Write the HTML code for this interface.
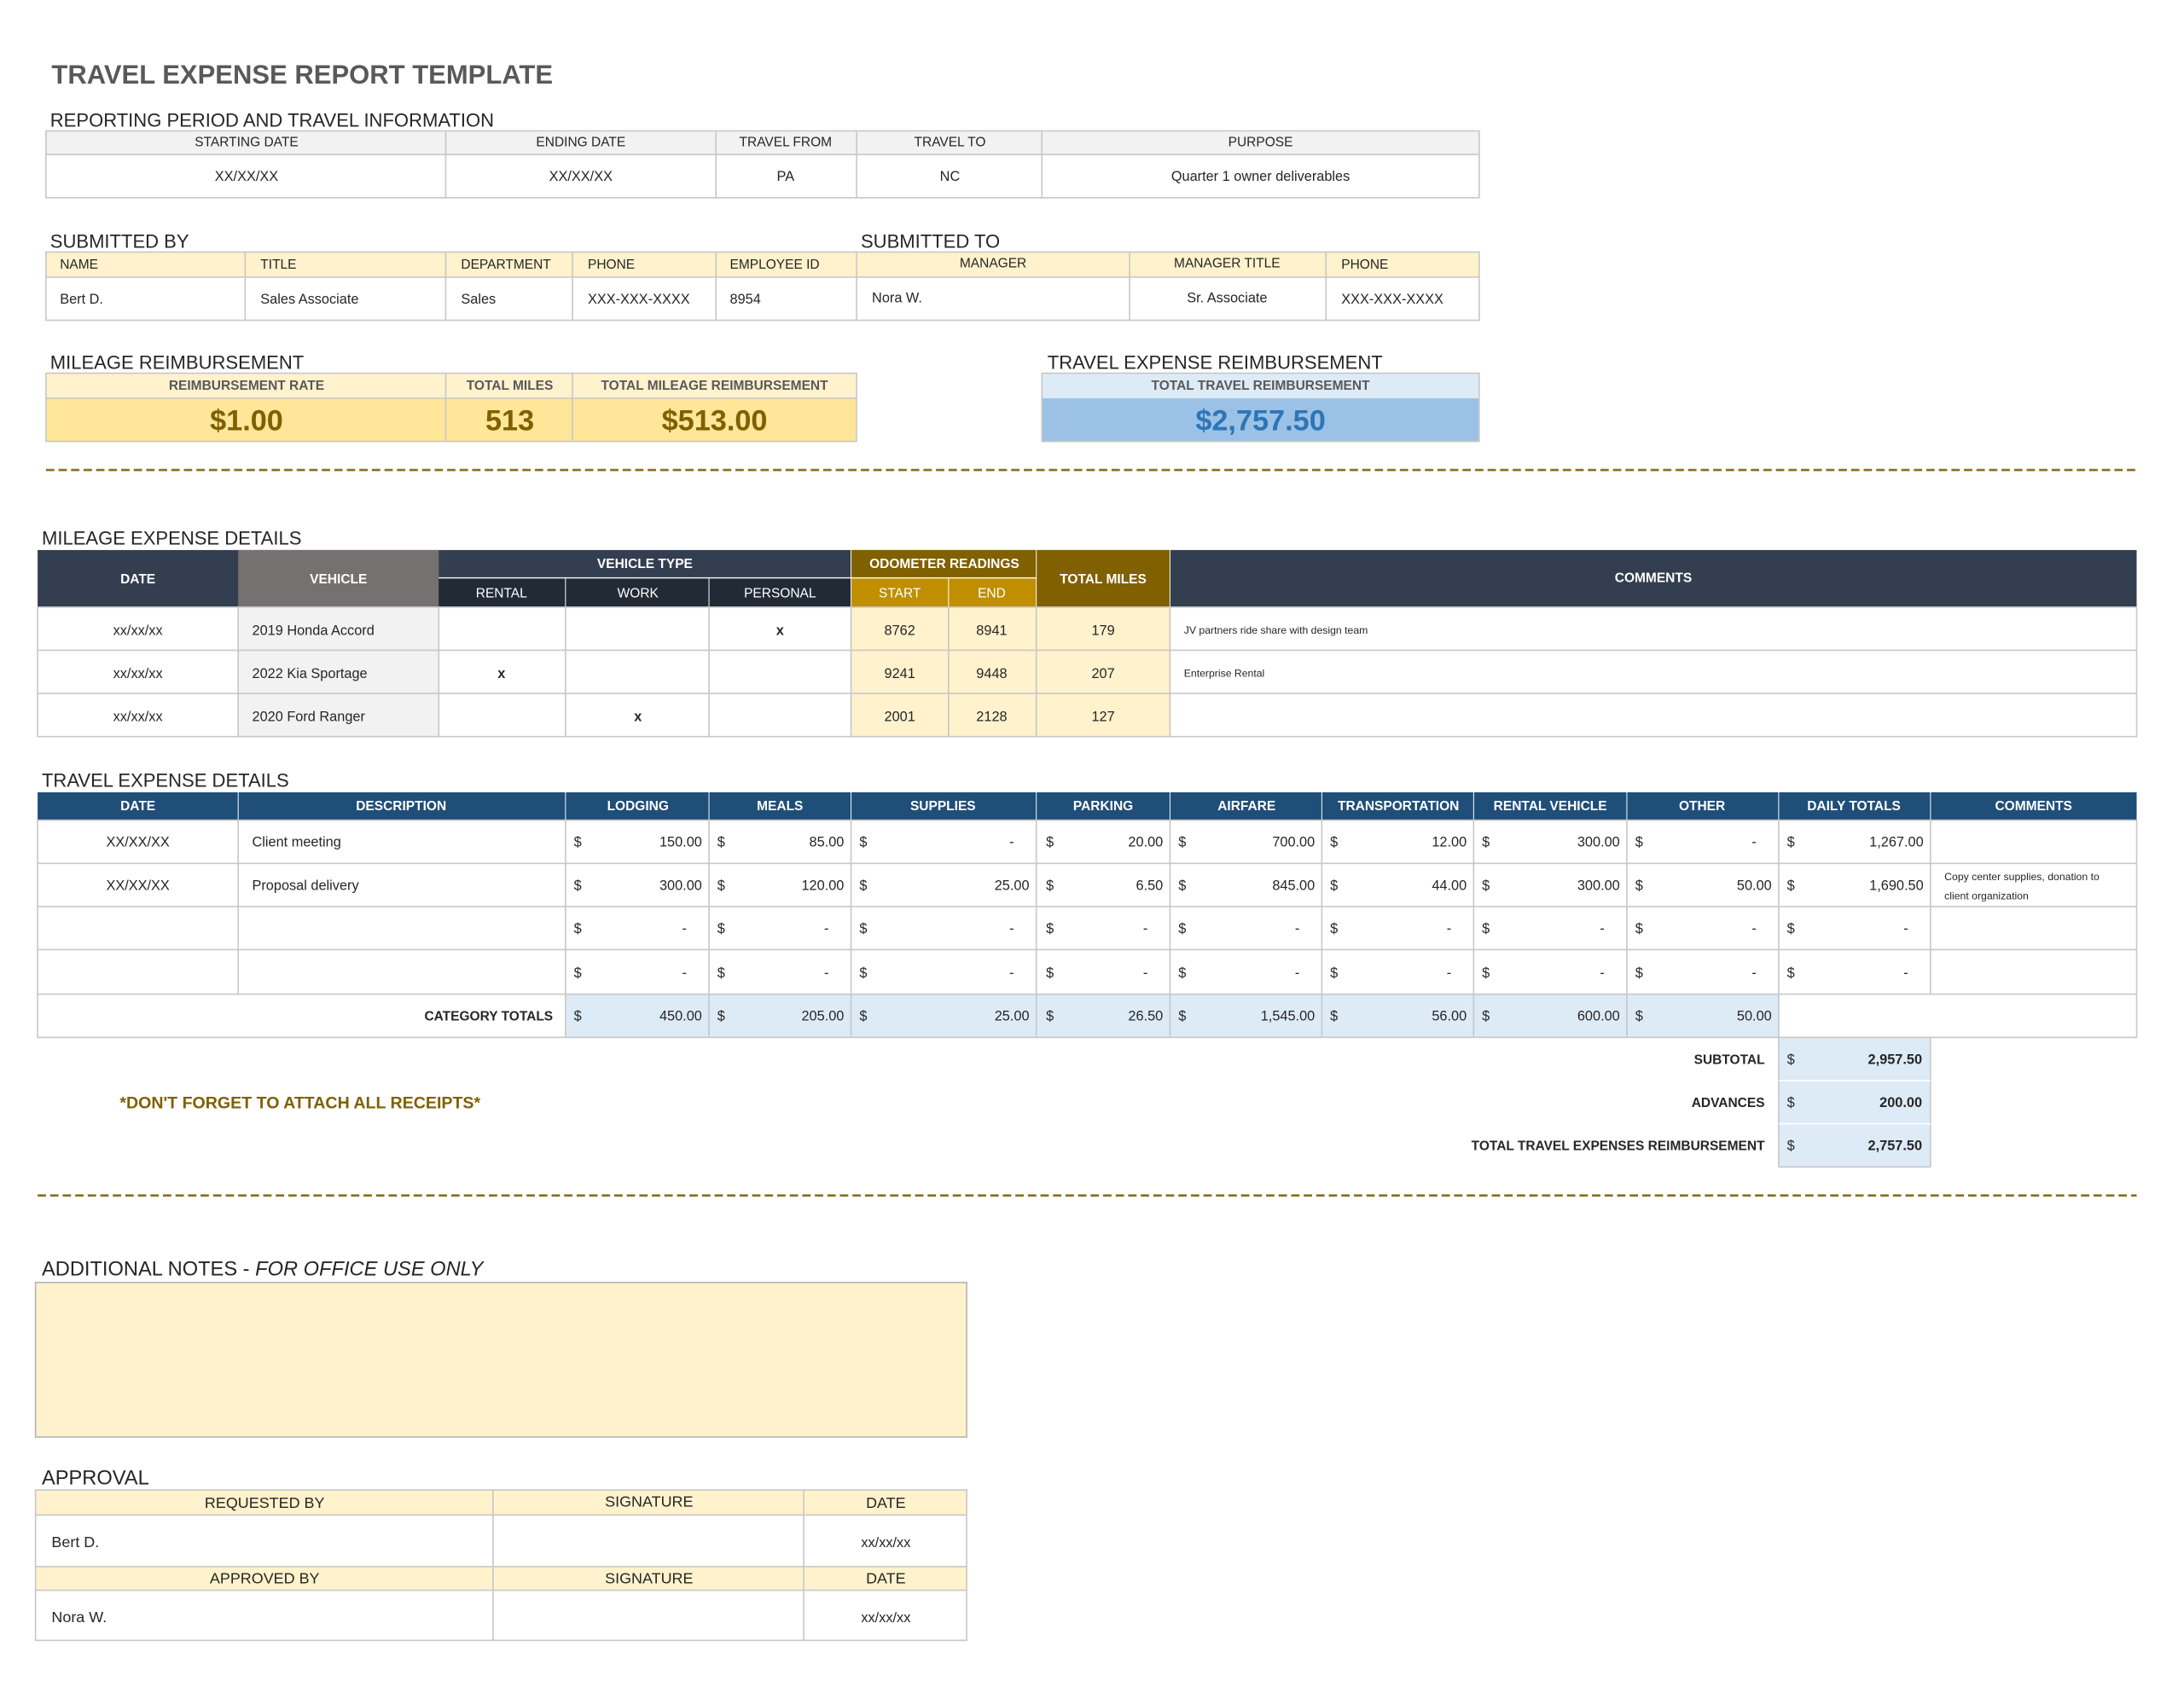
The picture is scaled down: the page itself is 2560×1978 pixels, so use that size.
<!DOCTYPE html>
<html><head><meta charset="utf-8"><style>
html,body{margin:0;padding:0;background:#fff}
svg{display:block}
text{font-family:"Liberation Sans",sans-serif;fill:#262626}
.h{font-size:9.5px;text-anchor:middle}
.hw{font-size:9.5px;text-anchor:middle;fill:#fff;font-weight:bold}
.sec{font-size:13.5px;fill:#262626}
.c{font-size:10px;text-anchor:middle}
.l{font-size:10px}
.r{font-size:10px;text-anchor:end}
.big{font-size:21px;font-weight:bold;fill:#7f6000;text-anchor:middle}
.b{font-weight:bold}
line.g{stroke:#c8c8c8;stroke-width:1}
</style></head><body>
<svg width="2560" height="1978" viewBox="0 0 1568 1211.5" preserveAspectRatio="none" xmlns="http://www.w3.org/2000/svg">
<text x="37" y="60" style="font-size:19px;font-weight:bold;fill:#595959">TRAVEL EXPENSE REPORT TEMPLATE</text>

<!-- Reporting period -->
<text x="36" y="91" class="sec">REPORTING PERIOD AND TRAVEL INFORMATION</text>
<rect x="33" y="94" width="1029" height="17" fill="#f2f2f2"/>
<rect x="33" y="94" width="1029" height="48" fill="none" stroke="#c8c8c8"/>
<line class="g" x1="33" y1="111" x2="1062" y2="111"/>
<line class="g" x1="320" y1="94" x2="320" y2="142"/><line class="g" x1="514" y1="94" x2="514" y2="142"/>
<line class="g" x1="615" y1="94" x2="615" y2="142"/><line class="g" x1="748" y1="94" x2="748" y2="142"/>
<text class="h" x="177" y="105">STARTING DATE</text><text class="h" x="417" y="105">ENDING DATE</text>
<text class="h" x="564" y="105">TRAVEL FROM</text><text class="h" x="682" y="105">TRAVEL TO</text><text class="h" x="905" y="105">PURPOSE</text>
<text class="c" x="177" y="130">XX/XX/XX</text><text class="c" x="417" y="130">XX/XX/XX</text>
<text class="c" x="564" y="130">PA</text><text class="c" x="682" y="130">NC</text><text class="c" x="905" y="130">Quarter 1 owner deliverables</text>

<!-- Submitted -->
<text x="36" y="178" class="sec">SUBMITTED BY</text><text x="618" y="178" class="sec">SUBMITTED TO</text>
<rect x="33" y="181" width="1029" height="18" fill="#fff2cc"/>
<rect x="33" y="181" width="1029" height="49" fill="none" stroke="#c8c8c8"/>
<line class="g" x1="33" y1="199" x2="1062" y2="199"/>
<line class="g" x1="176" y1="181" x2="176" y2="230"/><line class="g" x1="320" y1="181" x2="320" y2="230"/>
<line class="g" x1="411" y1="181" x2="411" y2="230"/><line class="g" x1="514" y1="181" x2="514" y2="230"/>
<line class="g" x1="615" y1="181" x2="615" y2="230"/><line class="g" x1="811" y1="181" x2="811" y2="230"/>
<line class="g" x1="952" y1="181" x2="952" y2="230"/>
<text class="l" x="43" y="193" style="font-size:9.5px">NAME</text><text class="l" x="187" y="193" style="font-size:9.5px">TITLE</text>
<text class="l" x="331" y="193" style="font-size:9.5px">DEPARTMENT</text><text class="l" x="422" y="193" style="font-size:9.5px">PHONE</text>
<text class="l" x="524" y="193" style="font-size:9.5px">EMPLOYEE ID</text><text class="h" x="713" y="192">MANAGER</text>
<text class="h" x="881" y="192">MANAGER TITLE</text><text class="l" x="963" y="193" style="font-size:9.5px">PHONE</text>
<text class="l" x="43" y="218">Bert D.</text><text class="l" x="187" y="218">Sales Associate</text><text class="l" x="331" y="218">Sales</text>
<text class="l" x="422" y="218">XXX-XXX-XXXX</text><text class="l" x="524" y="218">8954</text><text class="l" x="626" y="217">Nora W.</text>
<text class="c" x="881" y="217">Sr. Associate</text><text class="l" x="963" y="218">XXX-XXX-XXXX</text>

<!-- Mileage reimbursement -->
<text x="36" y="265" class="sec">MILEAGE REIMBURSEMENT</text>
<rect x="33" y="268" width="582" height="18" fill="#fff2cc"/>
<rect x="33" y="286" width="582" height="31" fill="#ffe699"/>
<rect x="33" y="268" width="582" height="49" fill="none" stroke="#c8c8c8"/>
<line class="g" x1="33" y1="286" x2="615" y2="286"/>
<line class="g" x1="320" y1="268" x2="320" y2="317"/><line class="g" x1="411" y1="268" x2="411" y2="317"/>
<text class="h b" x="177" y="280" style="fill:#595959">REIMBURSEMENT RATE</text>
<text class="h b" x="366" y="280" style="fill:#595959">TOTAL MILES</text>
<text class="h b" x="513" y="280" style="fill:#595959">TOTAL MILEAGE REIMBURSEMENT</text>
<text class="big" x="177" y="309">$1.00</text><text class="big" x="366" y="309">513</text><text class="big" x="513" y="309">$513.00</text>

<text x="752" y="265" class="sec">TRAVEL EXPENSE REIMBURSEMENT</text>
<rect x="748" y="268" width="314" height="18" fill="#ddebf7"/>
<rect x="748" y="286" width="314" height="31" fill="#9bc2e6"/>
<rect x="748" y="268" width="314" height="49" fill="none" stroke="#c8c8c8"/>
<text class="h b" x="905" y="280" style="fill:#595959">TOTAL TRAVEL REIMBURSEMENT</text>
<text class="big" x="905" y="309" style="fill:#2e75b6">$2,757.50</text>

<line x1="33" y1="337.5" x2="1536" y2="337.5" stroke="#8a6d1f" stroke-width="1.6" stroke-dasharray="6,3"/>

<!-- Mileage expense details -->
<text x="30" y="391" class="sec">MILEAGE EXPENSE DETAILS</text>
<rect x="27" y="395" width="1507" height="41" fill="#333f50"/>
<rect x="171" y="395" width="144" height="41" fill="#767171"/>
<rect x="315" y="415" width="296" height="21" fill="#222b35"/>
<rect x="611" y="395" width="229" height="41" fill="#806000"/>
<rect x="611" y="415" width="133" height="21" fill="#bf8f00"/>
<line x1="315" y1="415" x2="744" y2="415" stroke="#fff" stroke-width="0.8"/>
<line x1="406" y1="415" x2="406" y2="436" stroke="#fff" stroke-width="0.6"/><line x1="509" y1="415" x2="509" y2="436" stroke="#fff" stroke-width="0.6"/>
<line x1="681" y1="415" x2="681" y2="436" stroke="#fff" stroke-width="0.6"/><line x1="744" y1="395" x2="744" y2="436" stroke="#fff" stroke-width="0.6"/>
<line x1="611" y1="395" x2="611" y2="436" stroke="#fff" stroke-width="0.6"/><line x1="840" y1="395" x2="840" y2="436" stroke="#fff" stroke-width="0.6"/>
<text class="hw" x="99" y="419">DATE</text><text class="hw" x="243" y="419">VEHICLE</text>
<text class="hw" x="463" y="408">VEHICLE TYPE</text><text class="hw" x="678" y="408">ODOMETER READINGS</text>
<text class="hw" x="792" y="419">TOTAL MILES</text><text class="hw" x="1187" y="418">COMMENTS</text>
<text class="h" x="360" y="429" style="fill:#fff">RENTAL</text><text class="h" x="458" y="429" style="fill:#fff">WORK</text>
<text class="h" x="560" y="429" style="fill:#fff">PERSONAL</text><text class="h" x="646" y="429" style="fill:#fff">START</text><text class="h" x="712" y="429" style="fill:#fff">END</text>
<rect x="171" y="436" width="144" height="93" fill="#f2f2f2"/>
<rect x="611" y="436" width="229" height="93" fill="#fff2cc"/>
<rect x="27" y="436" width="1507" height="93" fill="none" stroke="#c8c8c8"/>
<line class="g" x1="27" y1="467" x2="1534" y2="467"/><line class="g" x1="27" y1="498" x2="1534" y2="498"/>
<line class="g" x1="171" y1="436" x2="171" y2="529"/><line class="g" x1="315" y1="436" x2="315" y2="529"/>
<line class="g" x1="406" y1="436" x2="406" y2="529"/><line class="g" x1="509" y1="436" x2="509" y2="529"/>
<line class="g" x1="611" y1="436" x2="611" y2="529"/><line class="g" x1="681" y1="436" x2="681" y2="529"/>
<line class="g" x1="744" y1="436" x2="744" y2="529"/><line class="g" x1="840" y1="436" x2="840" y2="529"/>
<text class="c" x="99" y="456">xx/xx/xx</text><text class="l" x="181" y="456">2019 Honda Accord</text><text class="c b" x="560" y="456">x</text>
<text class="c" x="646" y="456">8762</text><text class="c" x="712" y="456">8941</text><text class="c" x="792" y="456">179</text>
<text class="l" x="850" y="455" style="font-size:7.5px">JV partners ride share with design team</text>
<text class="c" x="99" y="487">xx/xx/xx</text><text class="l" x="181" y="487">2022 Kia Sportage</text><text class="c b" x="360" y="487">x</text>
<text class="c" x="646" y="487">9241</text><text class="c" x="712" y="487">9448</text><text class="c" x="792" y="487">207</text>
<text class="l" x="850" y="486" style="font-size:7.5px">Enterprise Rental</text>
<text class="c" x="99" y="518">xx/xx/xx</text><text class="l" x="181" y="518">2020 Ford Ranger</text><text class="c b" x="458" y="518">x</text>
<text class="c" x="646" y="518">2001</text><text class="c" x="712" y="518">2128</text><text class="c" x="792" y="518">127</text>

<!-- Travel expense details -->
<text x="30" y="565" class="sec">TRAVEL EXPENSE DETAILS</text>
<rect x="27" y="569" width="1507" height="20" fill="#1f4e79"/>
<g stroke="#fff" stroke-width="0.6">
<line x1="171" y1="569" x2="171" y2="589"/><line x1="406" y1="569" x2="406" y2="589"/><line x1="509" y1="569" x2="509" y2="589"/>
<line x1="611" y1="569" x2="611" y2="589"/><line x1="744" y1="569" x2="744" y2="589"/><line x1="840" y1="569" x2="840" y2="589"/>
<line x1="949" y1="569" x2="949" y2="589"/><line x1="1058" y1="569" x2="1058" y2="589"/><line x1="1168" y1="569" x2="1168" y2="589"/>
<line x1="1277" y1="569" x2="1277" y2="589"/><line x1="1386" y1="569" x2="1386" y2="589"/></g>
<text class="hw" x="99" y="582">DATE</text><text class="hw" x="288" y="582">DESCRIPTION</text><text class="hw" x="458" y="582">LODGING</text>
<text class="hw" x="560" y="582">MEALS</text><text class="hw" x="677" y="582">SUPPLIES</text><text class="hw" x="792" y="582">PARKING</text>
<text class="hw" x="895" y="582">AIRFARE</text><text class="hw" x="1004" y="582">TRANSPORTATION</text><text class="hw" x="1113" y="582">RENTAL VEHICLE</text>
<text class="hw" x="1222" y="582">OTHER</text><text class="hw" x="1331" y="582">DAILY TOTALS</text><text class="hw" x="1460" y="582">COMMENTS</text>
<rect x="406" y="714" width="871" height="31" fill="#ddebf7"/>
<rect x="1277" y="745" width="109" height="93" fill="#ddebf7"/>
<rect x="27" y="589" width="1507" height="156" fill="none" stroke="#c8c8c8"/>
<g class="g" stroke="#c8c8c8">
<line x1="27" y1="620" x2="1534" y2="620"/><line x1="27" y1="651" x2="1534" y2="651"/><line x1="27" y1="682" x2="1534" y2="682"/><line x1="27" y1="714" x2="1534" y2="714"/>
<line x1="171" y1="589" x2="171" y2="714"/><line x1="406" y1="589" x2="406" y2="745"/><line x1="509" y1="589" x2="509" y2="745"/>
<line x1="611" y1="589" x2="611" y2="745"/><line x1="744" y1="589" x2="744" y2="745"/><line x1="840" y1="589" x2="840" y2="745"/>
<line x1="949" y1="589" x2="949" y2="745"/><line x1="1058" y1="589" x2="1058" y2="745"/><line x1="1168" y1="589" x2="1168" y2="745"/>
<line x1="1277" y1="589" x2="1277" y2="838"/><line x1="1386" y1="589" x2="1386" y2="714"/><line x1="1386" y1="745" x2="1386" y2="838"/>
<line x1="1277" y1="776" x2="1386" y2="776" stroke="#fff"/><line x1="1277" y1="807" x2="1386" y2="807" stroke="#fff"/>
<line x1="1277" y1="838" x2="1386" y2="838"/></g>
<!-- row 1 -->
<text class="c" x="99" y="608">XX/XX/XX</text><text class="l" x="181" y="608">Client meeting</text>
<g class="l"><text class="l" x="412" y="608">$</text><text class="l" x="515" y="608">$</text><text class="l" x="617" y="608">$</text><text class="l" x="751" y="608">$</text><text class="l" x="846" y="608">$</text><text class="l" x="955" y="608">$</text><text class="l" x="1064" y="608">$</text><text class="l" x="1174" y="608">$</text><text class="l" x="1283" y="608">$</text></g>
<text class="r" x="504" y="608">150.00</text><text class="r" x="606" y="608">85.00</text><text class="r" x="728" y="608">-</text><text class="r" x="835" y="608">20.00</text>
<text class="r" x="944" y="608">700.00</text><text class="r" x="1053" y="608">12.00</text><text class="r" x="1163" y="608">300.00</text><text class="r" x="1261" y="608">-</text><text class="r" x="1381" y="608">1,267.00</text>
<!-- row 2 -->
<text class="c" x="99" y="639">XX/XX/XX</text><text class="l" x="181" y="639">Proposal delivery</text>
<text class="l" x="412" y="639">$</text><text class="l" x="515" y="639">$</text><text class="l" x="617" y="639">$</text><text class="l" x="751" y="639">$</text><text class="l" x="846" y="639">$</text><text class="l" x="955" y="639">$</text><text class="l" x="1064" y="639">$</text><text class="l" x="1174" y="639">$</text><text class="l" x="1283" y="639">$</text>
<text class="r" x="504" y="639">300.00</text><text class="r" x="606" y="639">120.00</text><text class="r" x="739" y="639">25.00</text><text class="r" x="835" y="639">6.50</text>
<text class="r" x="944" y="639">845.00</text><text class="r" x="1053" y="639">44.00</text><text class="r" x="1163" y="639">300.00</text><text class="r" x="1272" y="639">50.00</text><text class="r" x="1381" y="639">1,690.50</text>
<text class="l" x="1396" y="632" style="font-size:7.5px">Copy center supplies, donation to</text><text class="l" x="1396" y="646" style="font-size:7.5px">client organization</text>
<!-- row 3 -->
<text class="l" x="412" y="670">$</text><text class="l" x="515" y="670">$</text><text class="l" x="617" y="670">$</text><text class="l" x="751" y="670">$</text><text class="l" x="846" y="670">$</text><text class="l" x="955" y="670">$</text><text class="l" x="1064" y="670">$</text><text class="l" x="1174" y="670">$</text><text class="l" x="1283" y="670">$</text>
<text class="r" x="493" y="670">-</text><text class="r" x="595" y="670">-</text><text class="r" x="728" y="670">-</text><text class="r" x="824" y="670">-</text><text class="r" x="933" y="670">-</text><text class="r" x="1042" y="670">-</text><text class="r" x="1152" y="670">-</text><text class="r" x="1261" y="670">-</text><text class="r" x="1370" y="670">-</text>
<!-- row 4 -->
<text class="l" x="412" y="702">$</text><text class="l" x="515" y="702">$</text><text class="l" x="617" y="702">$</text><text class="l" x="751" y="702">$</text><text class="l" x="846" y="702">$</text><text class="l" x="955" y="702">$</text><text class="l" x="1064" y="702">$</text><text class="l" x="1174" y="702">$</text><text class="l" x="1283" y="702">$</text>
<text class="r" x="493" y="702">-</text><text class="r" x="595" y="702">-</text><text class="r" x="728" y="702">-</text><text class="r" x="824" y="702">-</text><text class="r" x="933" y="702">-</text><text class="r" x="1042" y="702">-</text><text class="r" x="1152" y="702">-</text><text class="r" x="1261" y="702">-</text><text class="r" x="1370" y="702">-</text>
<!-- totals -->
<text class="r b" x="397" y="733" style="font-size:9.5px">CATEGORY TOTALS</text>
<text class="l" x="412" y="733">$</text><text class="l" x="515" y="733">$</text><text class="l" x="617" y="733">$</text><text class="l" x="751" y="733">$</text><text class="l" x="846" y="733">$</text><text class="l" x="955" y="733">$</text><text class="l" x="1064" y="733">$</text><text class="l" x="1174" y="733">$</text>
<text class="r" x="504" y="733">450.00</text><text class="r" x="606" y="733">205.00</text><text class="r" x="739" y="733">25.00</text><text class="r" x="835" y="733">26.50</text>
<text class="r" x="944" y="733">1,545.00</text><text class="r" x="1053" y="733">56.00</text><text class="r" x="1163" y="733">600.00</text><text class="r" x="1272" y="733">50.00</text>
<text class="r b" x="1267" y="764" style="font-size:9.5px">SUBTOTAL</text><text class="l" x="1283" y="764">$</text><text class="r b" x="1380" y="764">2,957.50</text>
<text class="r b" x="1267" y="795" style="font-size:9.5px">ADVANCES</text><text class="l" x="1283" y="795">$</text><text class="r b" x="1380" y="795">200.00</text>
<text class="r b" x="1267" y="826" style="font-size:9.5px">TOTAL TRAVEL EXPENSES REIMBURSEMENT</text><text class="l" x="1283" y="826">$</text><text class="r b" x="1380" y="826">2,757.50</text>
<text x="86" y="796" style="font-size:12px;font-weight:bold;fill:#7f6000">*DON'T FORGET TO ATTACH ALL RECEIPTS*</text>

<line x1="27" y1="858.5" x2="1534" y2="858.5" stroke="#8a6d1f" stroke-width="1.6" stroke-dasharray="6,3"/>

<!-- Additional notes -->
<text x="30" y="916" class="sec" style="font-size:14.5px">ADDITIONAL NOTES - <tspan style="font-style:italic">FOR OFFICE USE ONLY</tspan></text>
<rect x="25.5" y="921" width="668.5" height="111" fill="#fff2cc" stroke="#b4b4b4"/>

<!-- Approval -->
<text x="30" y="1066" class="sec" style="font-size:14.5px">APPROVAL</text>
<rect x="25.5" y="1070" width="668.5" height="18" fill="#fff2cc"/>
<rect x="25.5" y="1125" width="668.5" height="17" fill="#fff2cc"/>
<rect x="25.5" y="1070" width="668.5" height="108" fill="none" stroke="#c8c8c8"/>
<line class="g" x1="25" y1="1088" x2="694" y2="1088"/><line class="g" x1="25" y1="1125" x2="694" y2="1125"/><line class="g" x1="25" y1="1142" x2="694" y2="1142"/>
<line class="g" x1="354" y1="1070" x2="354" y2="1178"/><line class="g" x1="577" y1="1070" x2="577" y2="1178"/>
<text class="c" x="190" y="1083" style="font-size:11px">REQUESTED BY</text><text class="c" x="466" y="1082" style="font-size:11px">SIGNATURE</text><text class="c" x="636" y="1083" style="font-size:11px">DATE</text>
<text class="l" x="37" y="1111" style="font-size:11px">Bert D.</text><text class="c" x="636" y="1111">xx/xx/xx</text>
<text class="c" x="190" y="1137" style="font-size:11px">APPROVED BY</text><text class="c" x="466" y="1137" style="font-size:11px">SIGNATURE</text><text class="c" x="636" y="1137" style="font-size:11px">DATE</text>
<text class="l" x="37" y="1165" style="font-size:11px">Nora W.</text><text class="c" x="636" y="1165">xx/xx/xx</text>
</svg>
</body></html>
